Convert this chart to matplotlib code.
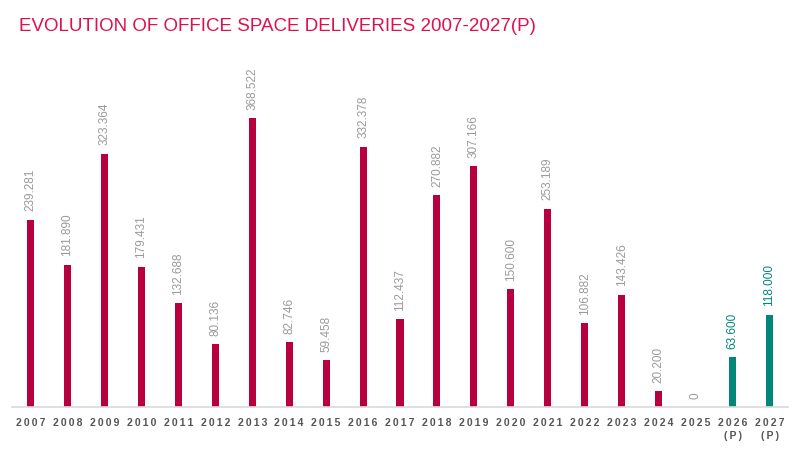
import matplotlib.pyplot as plt

# datos
years = ["2007", "2008", "2009", "2010", "2011", "2012", "2013", "2014", "2015", "2016",
         "2017", "2018", "2019", "2020", "2021", "2022", "2023", "2024", "2025", "2026", "2027"]
deliveries = [239281, 181890, 323364, 179431, 132688, 80136, 368522, 82746, 59458, 332378,
              112437, 270882, 307166, 150600, 253189, 106882, 143426, 20200, 0, 63600, 118000]
forecast = [False] * 19 + [True, True]

RED = "#b8003e"
TEAL = "#00877a"
plt.rcParams["font.family"] = ["Liberation Sans", "DejaVu Sans"]

fig = plt.figure(figsize=(7.98, 4.49), dpi=100)
ax = fig.add_axes([12 / 798, 42 / 449, 776 / 798, 368 / 449])

x = list(range(len(years)))
colors = [TEAL if f else RED for f in forecast]
ax.bar(x, deliveries, width=0.19, color=colors)

for xi, v, f in zip(x, deliveries, forecast):
    ax.annotate(f"{v:,}".replace(",", "."), (xi, v), xytext=(0, 6), textcoords="offset points",
                rotation=90, ha="center", va="bottom", fontsize=8.5,
                color=TEAL if f else "#9a9a9a")

ax.set_xlim(-0.5, len(years) - 0.5)
ax.set_ylim(0, 470000)
ax.set_xticks(x)
ax.set_xticklabels(["\u2009".join(y) + ("\n(\u2009P\u2009)" if f else "") for y, f in zip(years, forecast)],
                   fontsize=7.5, fontweight="bold", color="#555555", linespacing=1.3)
ax.tick_params(axis="x", length=0, pad=8)
ax.set_yticks([])
for s in ["top", "right", "left"]:
    ax.spines[s].set_visible(False)
ax.spines["bottom"].set_color("#d9d9d9")
ax.spines["bottom"].set_linewidth(1.2)

fig.text(19 / 798, 1 - 31 / 449, "EVOLUTION OF OFFICE SPACE DELIVERIES 2007-2027(P)",
         fontsize=13.5, color="#e0104f", ha="left", va="baseline")

fig.savefig("out.png", dpi=100)
